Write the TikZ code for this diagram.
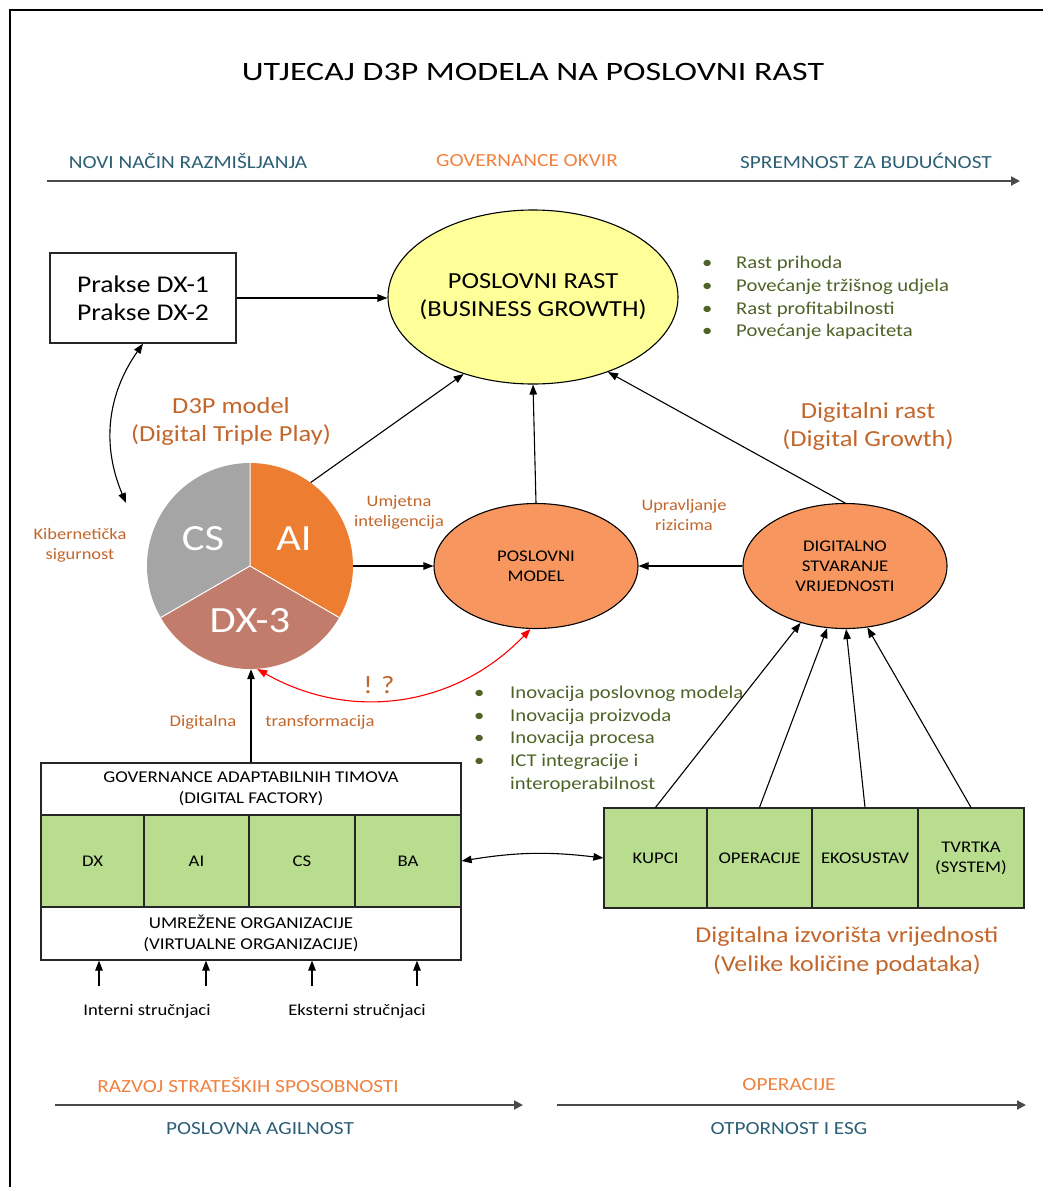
\documentclass[tikz,border=0pt]{standalone}
\usepackage{fontspec}
\setmainfont{Carlito}[FakeStretch=1.15]
\newfontfamily\titlefont{Carlito}[FakeStretch=1.28]
\usetikzlibrary{arrows.meta,shapes.geometric}

\definecolor{hdrteal}{HTML}{2B5F75}
\definecolor{hdrorange}{HTML}{F0813F}
\definecolor{labbrown}{HTML}{C2662B}
\definecolor{bulletgreen}{HTML}{4F6228}
\definecolor{rastyellow}{HTML}{FFFF99}
\definecolor{ellorange}{HTML}{F7975F}
\definecolor{cellgreen}{HTML}{B9DD8F}
\definecolor{pieorange}{HTML}{ED7D31}
\definecolor{pierose}{HTML}{C27C6C}
\definecolor{piegray}{HTML}{A5A5A5}
\definecolor{axisgray}{HTML}{4A4A4A}

\begin{document}
\begin{tikzpicture}[x=1pt,y=-1pt,
  arr/.style={-{Triangle[length=10pt,width=7.5pt]}},
  darr/.style={{Triangle[length=10pt,width=7.5pt]}-{Triangle[length=10pt,width=7.5pt]}},
  conn/.style={draw=black, line width=1.1pt},
  axisline/.style={draw=axisgray, line width=2pt, -{Triangle[length=9pt,width=9pt]}},
  hdr/.style={font=\fontsize{18.5}{22}\selectfont, inner sep=0},
  lab/.style={text=labbrown, align=center, inner sep=0},
  bullets/.style={text=bulletgreen, align=left, inner sep=0, anchor=west},
  oval/.style={ellipse, draw=black, line width=1.1pt, fill=ellorange, inner sep=0,
    minimum width=204pt, minimum height=125pt, align=center,
    font=\fontsize{16.3}{20}\selectfont},
  wbox/.style={draw=black!85, line width=1.2pt, fill=white, inner sep=0, align=center,
    minimum width=420pt, font=\fontsize{16.5}{21}\selectfont},
  cell/.style={draw=black!85, line width=1.2pt, fill=cellgreen, inner sep=0, align=center,
    minimum height=#1, font=\fontsize{16.3}{20}\selectfont},
  pielab/.style={text=white, inner sep=0, font=\fontsize{37}{40}\selectfont}
]
\useasboundingbox (0,0) rectangle (1043,1187);

% outer frame
\draw[line width=2pt] (10,1200) -- (10,10) -- (1060,10);

% title
\node[font=\titlefont\fontsize{26.5}{32}\selectfont, inner sep=0] (title) at (533,72)
  {UTJECAJ D3P MODELA NA POSLOVNI RAST};

% upper axis
\node[hdr, text=hdrteal] (h1) at (188,161) {NOVI NAČIN RAZMIŠLJANJA};
\node[hdr, text=hdrorange] (h2) at (527,161) {GOVERNANCE OKVIR};
\node[hdr, text=hdrteal] (h3) at (866,161) {SPREMNOST ZA BUDUĆNOST};
\coordinate (ta) at (47,181);
\coordinate (tb) at (1020,181);
\draw[axisline] (ta) -- (tb);

% practices box and business growth
\node[draw=black!85, line width=1.2pt, minimum width=186pt, minimum height=90pt,
  inner sep=0, align=center, font=\fontsize{24}{28}\selectfont] (prakse) at (143,298)
  {Prakse DX-1\\Prakse DX-2};
\node[ellipse, draw=black, line width=1.1pt, fill=rastyellow, inner sep=0,
  minimum width=290pt, minimum height=174pt] (rast) at (533,297) {};
\node[align=center, inner sep=0, font=\fontsize{23}{28}\selectfont] (rasttext) at (rast.center)
  {POSLOVNI RAST\\(BUSINESS GROWTH)};

\node[bullets, font=\fontsize{18}{22.7}\selectfont] (rastlist) at (702,298)
  {\makebox[34pt][l]{\textbullet}Rast prihoda\\
   \makebox[34pt][l]{\textbullet}Povećanje tržišnog udjela\\
   \makebox[34pt][l]{\textbullet}Rast profitabilnosti\\
   \makebox[34pt][l]{\textbullet}Povećanje kapaciteta};

\node[lab, font=\fontsize{23}{28}\selectfont] (d3p) at (231,421) {D3P model\\(Digital Triple Play)};
\node[lab, font=\fontsize{23}{28}\selectfont] (dgrowth) at (868,426) {Digitalni rast\\(Digital Growth)};

% D3P pie
\node[circle, minimum size=206pt, inner sep=0] (pie) at (250,566) {};
\begin{scope}[shift={(250,566)}, x=1pt, y=1pt]
  \fill[pieorange] (0,0) -- (90:103) arc[start angle=90, end angle=-30, radius=103] -- cycle;
  \fill[pierose] (0,0) -- (-30:103) arc[start angle=-30, end angle=-150, radius=103] -- cycle;
  \fill[piegray] (0,0) -- (210:103) arc[start angle=210, end angle=90, radius=103] -- cycle;
  \draw[white, line width=1pt] (0,0) -- (90:103) (0,0) -- (-30:103) (0,0) -- (210:103);
\end{scope}
\node[pielab] (pcs) at (203,539) {CS};
\node[pielab] (pai) at (294,539) {AI};
\node[pielab] (pdx) at (250,621) {DX-3};

\node[lab, font=\fontsize{16}{20}\selectfont] (umj) at (399,512) {Umjetna\\inteligencija};
\node[lab, font=\fontsize{16}{20}\selectfont] (kib) at (80,545) {Kibernetička\\sigurnost};
\node[lab, font=\fontsize{16}{20}\selectfont] (upr) at (684,515) {Upravljanje\\rizicima};

% business model and digital value creation
\node[oval] (model) at (536,566) {POSLOVNI\\MODEL};
\node[oval] (digit) at (845,566) {DIGITALNO\\STVARANJE\\VRIJEDNOSTI};

\node[lab, font=\fontsize{25}{28}\selectfont] (q) at (379,685) {!\,\,?};
\node[lab, font=\fontsize{16.2}{20}\selectfont] (dt1) at (203,722) {Digitalna};
\node[lab, font=\fontsize{16.2}{20}\selectfont] (dt2) at (320,722) {transformacija};

\node[bullets, font=\fontsize{18}{22.75}\selectfont] (innlist) at (474,739)
  {\makebox[36pt][l]{\textbullet}Inovacija poslovnog modela\\
   \makebox[36pt][l]{\textbullet}Inovacija proizvoda\\
   \makebox[36pt][l]{\textbullet}Inovacija procesa\\
   \makebox[36pt][l]{\textbullet}ICT integracije i\\
   \makebox[36pt][l]{}interoperabilnost};

% digital factory block
\node[wbox, minimum height=52pt] (govtop) at (251,789)
  {GOVERNANCE ADAPTABILNIH TIMOVA\\(DIGITAL FACTORY)};
\node[cell=92pt, minimum width=103pt] (cdx) at (92.5,861) {DX};
\node[cell=92pt, minimum width=105pt] (cai) at (196.5,861) {AI};
\node[cell=92pt, minimum width=106pt] (ccs) at (302,861) {CS};
\node[cell=92pt, minimum width=106pt] (cba) at (408,861) {BA};
\node[wbox, minimum height=53pt] (govbot) at (251,933.5)
  {UMREŽENE ORGANIZACIJE\\(VIRTUALNE ORGANIZACIJE)};

\coordinate (e1) at (99,986);
\coordinate (e2) at (206,986);
\coordinate (e3) at (312,986);
\coordinate (e4) at (417,986);
\node[inner sep=0, font=\fontsize{16.2}{20}\selectfont] (intl) at (147,1011) {Interni stručnjaci};
\node[inner sep=0, font=\fontsize{16.2}{20}\selectfont] (extl) at (357,1011) {Eksterni stručnjaci};

% digital value sources
\node[cell=100pt, minimum width=103pt] (kupci) at (655.5,858) {KUPCI};
\node[cell=100pt, minimum width=105pt] (oper) at (759.5,858) {OPERACIJE};
\node[cell=100pt, minimum width=106pt] (eko) at (865,858) {EKOSUSTAV};
\node[cell=100pt, minimum width=106pt] (tvrtka) at (971,858) {TVRTKA\\(SYSTEM)};
\node[lab, font=\fontsize{22.6}{29}\selectfont] (izv) at (847,951)
  {Digitalna izvorišta vrijednosti\\(Velike količine podataka)};

% lower axes
\node[hdr, text=hdrorange] (b1) at (248,1085) {RAZVOJ STRATEŠKIH SPOSOBNOSTI};
\node[hdr, text=hdrteal] (b2) at (260,1129) {POSLOVNA AGILNOST};
\node[hdr, text=hdrorange] (b3) at (789,1085) {OPERACIJE};
\node[hdr, text=hdrteal] (b4) at (789,1129) {OTPORNOST I ESG};
\coordinate (la) at (55,1105);
\coordinate (lb) at (523,1105);
\coordinate (ra) at (557,1105);
\coordinate (rb) at (1026,1105);
\draw[axisline] (la) -- (lb);
\draw[axisline] (ra) -- (rb);

% connectors
\coordinate (cyb) at (126,503);
\draw[conn, arr] (prakse.east) -- (prakse.east -| rast.west);
\draw[conn, darr] (prakse.south) to[bend right=29] (cyb);
\draw[conn, arr] (pie.54) -- (rast.228);
\draw[conn, arr] (pie.east) -- (model.west);
\draw[conn, arr] (model.north) -- (rast.south);
\draw[conn, arr] (digit.west) -- (model.east);
\draw[conn, arr] (digit.north) -- (rast.-45);
\draw[draw=red, line width=1.1pt, {Triangle[length=10pt,width=7.5pt]}-{Triangle[length=10pt,width=7.5pt]}]
  (pie.-86) to[bend right=38] (model.-95);
\draw[conn, arr] (govtop.north) -- (govtop.north |- pie.south);
\foreach \e in {e1,e2,e3,e4} \draw[conn, arr] (\e) -- (\e |- govbot.south);
\draw[conn, darr] (cba.east) to[bend left=8] (kupci.west);
\draw[conn, arr] (kupci.north) -- (digit.232);
\draw[conn, arr] (oper.north) -- (digit.254);
\draw[conn, arr] (eko.north) -- (digit.-89);
\draw[conn, arr] (tvrtka.north) -- (digit.-70);
\end{tikzpicture}
\end{document}
